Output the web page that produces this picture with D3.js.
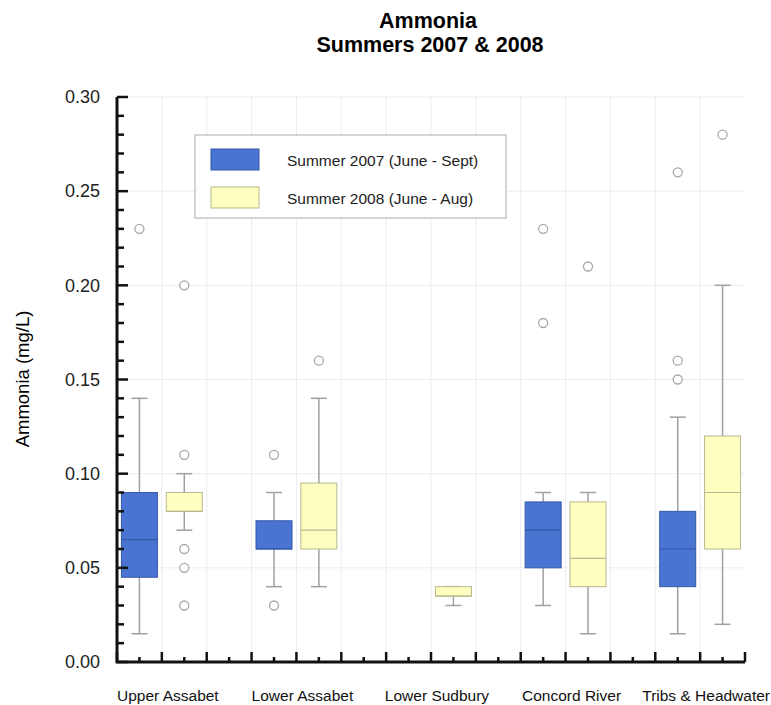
<!DOCTYPE html>
<html>
<head>
<meta charset="utf-8">
<script src="https://cdn.jsdelivr.net/npm/d3@7"></script>
<style>
body { margin: 0; background: #fff; }
text { font-family: "Liberation Sans", Arial, sans-serif; }
</style>
</head>
<body>
<script>
// categories and series
var sites = ["Upper Assabet", "Lower Assabet", "Lower Sudbury", "Concord River", "Tribs & Headwater"];
var seriesNames = ["Summer 2007 (June - Sept)", "Summer 2008 (June - Aug)"];

// [low whisker, Q1, median, Q3, high whisker] per site, null = no data
var stats2007 = [
  [0.015, 0.045, 0.065, 0.09, 0.14],
  [0.04, 0.06, 0.06, 0.075, 0.09],
  null,
  [0.03, 0.05, 0.07, 0.085, 0.09],
  [0.015, 0.04, 0.06, 0.08, 0.13]
];
var stats2008 = [
  [0.07, 0.08, 0.08, 0.09, 0.10],
  [0.04, 0.06, 0.07, 0.095, 0.14],
  [0.03, 0.035, 0.035, 0.04, 0.04],
  [0.015, 0.04, 0.055, 0.085, 0.09],
  [0.02, 0.06, 0.09, 0.12, 0.20]
];
var outliers2007 = [[0.23], [0.11, 0.03], [], [0.23, 0.18], [0.26, 0.16, 0.15]];
var outliers2008 = [[0.20, 0.11, 0.06, 0.05, 0.03], [0.16], [], [0.21], [0.28]];
var yTicks = [0, 0.05, 0.10, 0.15, 0.20, 0.25, 0.30];

var w = 771, h = 705;
var mLeft = 117, mRight = 745, mTop = 97, mBottom = 662;
var nSlots = 14;
var boxW = 36, capW = 16;
var blue = "#4a74d2", blueEdge = "#3558a8";
var yellow = "#ffffc0", yellowEdge = "#b8b890";

var svg = d3.select("body").append("svg")
  .attr("width", w)
  .attr("height", h);

var x = d3.scaleLinear().domain([0, nSlots]).range([mLeft, mRight]);
var y = d3.scaleLinear().domain([0, 0.3]).range([mBottom, mTop]);

// grid
svg.append("g").selectAll("line")
  .data(d3.range(1, nSlots))
  .enter().append("line")
  .attr("x1", function(d) { return x(d); })
  .attr("x2", function(d) { return x(d); })
  .attr("y1", mTop).attr("y2", mBottom)
  .attr("stroke", "#ececf0").attr("stroke-width", 1);
svg.append("g").selectAll("line")
  .data(yTicks.slice(1))
  .enter().append("line")
  .attr("x1", mLeft).attr("x2", mRight)
  .attr("y1", function(d) { return y(d); })
  .attr("y2", function(d) { return y(d); })
  .attr("stroke", "#ececf0").attr("stroke-width", 1);

// title
svg.append("text").attr("x", 428).attr("y", 28)
  .attr("text-anchor", "middle").attr("font-size", 21.5).attr("font-weight", "bold")
  .text("Ammonia");
svg.append("text").attr("x", 430).attr("y", 52)
  .attr("text-anchor", "middle").attr("font-size", 21.5).attr("font-weight", "bold")
  .text("Summers 2007 & 2008");

// y axis label
svg.append("text")
  .attr("transform", "translate(29,379) rotate(-90)")
  .attr("text-anchor", "middle").attr("font-size", 18.5)
  .text("Ammonia (mg/L)");

// boxes
function drawBoxes(stats, outs, offset, fill, edge) {
  stats.forEach(function(s, i) {
    var cx = x(i * 3 + offset + 0.5);
    var g = svg.append("g");
    if (s) {
      g.append("line").attr("x1", cx).attr("x2", cx)
        .attr("y1", y(s[4])).attr("y2", y(s[0]))
        .attr("stroke", "#a0a0a0").attr("stroke-width", 1.5);
      [s[0], s[4]].forEach(function(v) {
        g.append("line").attr("x1", cx - capW / 2).attr("x2", cx + capW / 2)
          .attr("y1", y(v)).attr("y2", y(v))
          .attr("stroke", "#a0a0a0").attr("stroke-width", 1.5);
      });
      g.append("rect").attr("x", cx - boxW / 2).attr("y", y(s[3]))
        .attr("width", boxW).attr("height", y(s[1]) - y(s[3]))
        .attr("fill", fill).attr("stroke", edge).attr("stroke-width", 1);
      g.append("line").attr("x1", cx - boxW / 2).attr("x2", cx + boxW / 2)
        .attr("y1", y(s[2])).attr("y2", y(s[2]))
        .attr("stroke", edge).attr("stroke-width", 1.2);
    }
    g.selectAll("circle").data(outs[i]).enter().append("circle")
      .attr("cx", cx).attr("cy", function(d) { return y(d); })
      .attr("r", 4.5).attr("fill", "#fff")
      .attr("stroke", "#a8a8a8").attr("stroke-width", 1.3);
  });
}
drawBoxes(stats2007, outliers2007, 0, blue, blueEdge);
drawBoxes(stats2008, outliers2008, 1, yellow, yellowEdge);

// y axis
var yAxis = d3.axisLeft(y).tickValues(yTicks).tickSize(0).tickPadding(17)
  .tickFormat(d3.format(".2f"));
var ya = svg.append("g").attr("transform", "translate(" + mLeft + ",0)").call(yAxis);
ya.select(".domain").remove();
ya.selectAll("text").attr("font-size", 18).attr("font-family", "Liberation Sans, Arial, sans-serif").attr("fill", "#222");
svg.append("g").selectAll("line")
  .data(d3.range(0, 31))
  .enter().append("line")
  .attr("x1", mLeft)
  .attr("x2", function(d) { return d % 5 === 0 ? mLeft + 11 : mLeft + 7; })
  .attr("y1", function(d) { return y(d / 100); })
  .attr("y2", function(d) { return y(d / 100); })
  .attr("stroke", "#111").attr("stroke-width", 2.5);

// x axis ticks
svg.append("g").selectAll("line")
  .data(d3.range(0, nSlots * 2 + 1))
  .enter().append("line")
  .attr("x1", function(d) { return x(d / 2); })
  .attr("x2", function(d) { return x(d / 2); })
  .attr("y1", mBottom)
  .attr("y2", function(d) { return d % 2 === 0 ? mBottom - 10 : mBottom - 5; })
  .attr("stroke", "#111").attr("stroke-width", 2.5);

// axis lines
svg.append("path")
  .attr("d", "M" + mLeft + "," + mTop + "V" + mBottom + "H" + mRight)
  .attr("fill", "none").attr("stroke", "#111").attr("stroke-width", 3);

// category labels
svg.append("g").selectAll("text")
  .data(sites)
  .enter().append("text")
  .attr("x", function(d, i) { return x(i * 3 + 1) + 6; })
  .attr("y", 701)
  .attr("text-anchor", "middle").attr("font-size", 15.5).attr("fill", "#111")
  .text(function(d) { return d; });

// legend
var lg = svg.append("g");
lg.append("rect").attr("x", 195).attr("y", 135).attr("width", 311).attr("height", 83)
  .attr("fill", "#fff").attr("stroke", "#aaa").attr("stroke-width", 1);
[[blue, blueEdge], [yellow, yellowEdge]].forEach(function(c, i) {
  lg.append("rect").attr("x", 211).attr("y", 149 + i * 38).attr("width", 48).attr("height", 21)
    .attr("fill", c[0]).attr("stroke", c[1]).attr("stroke-width", 1);
  lg.append("text").attr("x", 287).attr("y", 166 + i * 38)
    .attr("font-size", 15.5).attr("fill", "#222")
    .text(seriesNames[i]);
});
</script>
</body>
</html>
